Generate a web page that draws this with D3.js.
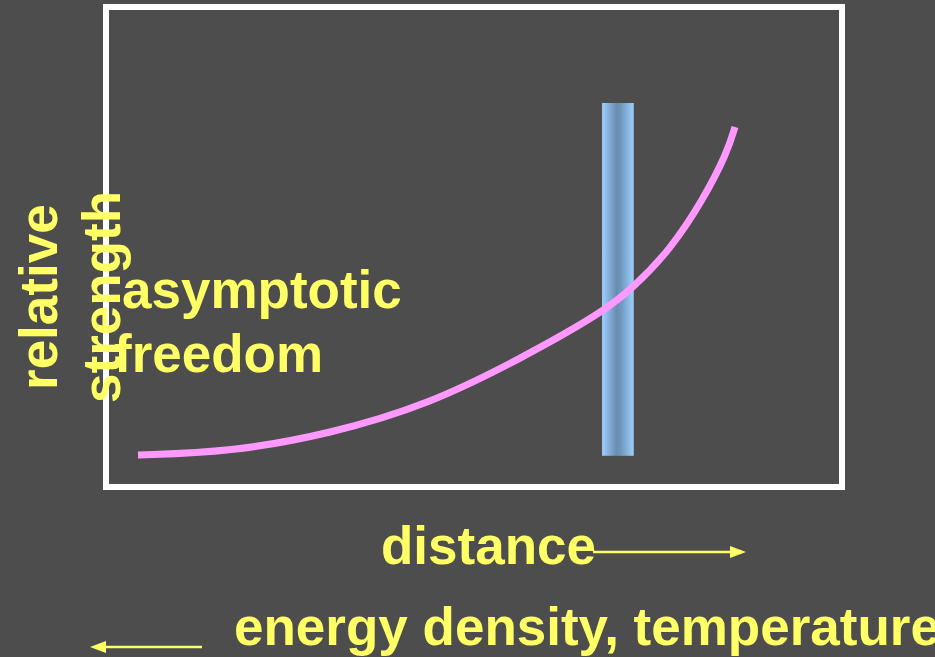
<!DOCTYPE html>
<html>
<head>
<meta charset="utf-8">
<script src="https://cdn.jsdelivr.net/npm/d3@7"></script>
<style>
  html, body { margin: 0; padding: 0; background: #4d4d4d; }
  svg { display: block; }
  text { font-family: "Liberation Sans", Arial, sans-serif; font-weight: bold; fill: #ffff66; }
</style>
</head>
<body>
<div id="chart"></div>
<script>
// curve of relative strength vs distance (both in arbitrary units 0-100)
const distance = [4.35, 16.85, 30.43, 44.02, 56.25, 67.39, 71.74, 76.63, 81.11, 84.38, 85.46];
const strength = [6.67, 7.29, 11.04, 17.29, 26.67, 36.25, 41.67, 49.38, 59.79, 69.58, 75.0];

// the shaded transition band
const bandX = [67.4, 71.7];
const bandY = [6.5, 80];

const labels = ["asymptotic", "freedom"];

const width = 935, height = 657;
const frame = { left: 106, top: 7, right: 842, bottom: 487 };

const svg = d3.select("#chart").append("svg")
    .attr("width", width)
    .attr("height", height);

svg.append("rect")
    .attr("width", width)
    .attr("height", height)
    .attr("fill", "#4d4d4d");

const x = d3.scaleLinear().domain([0, 100]).range([frame.left, frame.right]);
const y = d3.scaleLinear().domain([0, 100]).range([frame.bottom, frame.top]);

const grad = svg.append("defs").append("linearGradient")
    .attr("id", "bandGrad")
    .attr("x1", "0%").attr("x2", "100%").attr("y1", "0%").attr("y2", "0%");
grad.append("stop").attr("offset", "0%").attr("stop-color", "#9dd0ff");
grad.append("stop").attr("offset", "45%").attr("stop-color", "#6a8db2");
grad.append("stop").attr("offset", "60%").attr("stop-color", "#7098bd");
grad.append("stop").attr("offset", "100%").attr("stop-color", "#9dd0ff");

// frame
svg.append("rect")
    .attr("x", frame.left)
    .attr("y", frame.top)
    .attr("width", frame.right - frame.left)
    .attr("height", frame.bottom - frame.top)
    .attr("fill", "none")
    .attr("stroke", "#ffffff")
    .attr("stroke-width", 6);

// band
svg.append("rect")
    .attr("x", x(bandX[0]))
    .attr("y", y(bandY[1]))
    .attr("width", x(bandX[1]) - x(bandX[0]))
    .attr("height", y(bandY[0]) - y(bandY[1]))
    .attr("fill", "url(#bandGrad)");

// curve
const pts = distance.map((d, i) => [d, strength[i]]);
const line = d3.line()
    .x(d => x(d[0]))
    .y(d => y(d[1]))
    .curve(d3.curveBasis);

svg.append("path")
    .attr("d", line(pts))
    .attr("fill", "none")
    .attr("stroke", "#ff99ff")
    .attr("stroke-width", 7);

// labels
const fs = 53;
svg.append("text")
    .attr("transform", "translate(57,390) rotate(-90)")
    .attr("font-size", fs)
    .text("relative");
svg.append("text")
    .attr("transform", "translate(120,403) rotate(-90)")
    .attr("font-size", fs)
    .text("strength");

svg.append("text").attr("x", 122).attr("y", 308).attr("font-size", fs).text(labels[0]);
svg.append("text").attr("x", 114).attr("y", 372).attr("font-size", fs).text(labels[1]);

svg.append("text").attr("x", 381).attr("y", 564).attr("font-size", fs).text("distance");
svg.append("text").attr("x", 234).attr("y", 645).attr("font-size", fs).text("energy density, temperature");

// arrows
function arrow(x1, x2, yy) {
    const dir = Math.sign(x2 - x1);
    svg.append("line")
        .attr("x1", x1).attr("x2", x2 - dir * 12)
        .attr("y1", yy).attr("y2", yy)
        .attr("stroke", "#ffff66")
        .attr("stroke-width", 2.4);
    svg.append("path")
        .attr("d", `M${x2},${yy} L${x2 - dir * 16},${yy - 6} L${x2 - dir * 16},${yy + 6} Z`)
        .attr("fill", "#ffff66");
}
arrow(593, 746, 552);
arrow(202, 90, 647);
</script>
</body>
</html>
